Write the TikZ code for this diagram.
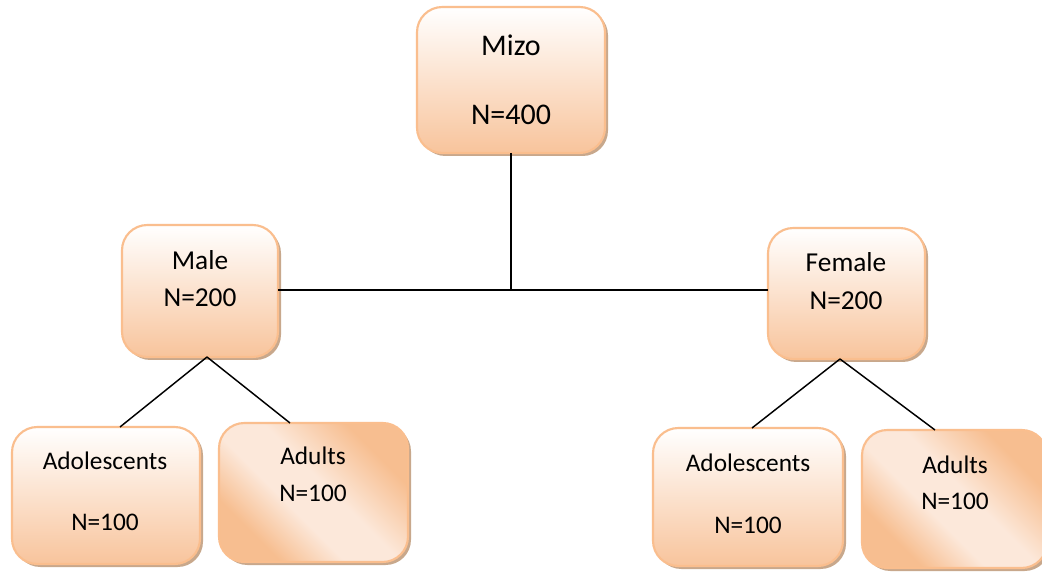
\documentclass[tikz,border=0pt]{standalone}
\usepackage{fontspec}
\setmainfont{Carlito}
\usetikzlibrary{calc}
\definecolor{pk}{RGB}{248,196,156}
\definecolor{pkd}{RGB}{247,190,144}
\definecolor{pkl}{RGB}{252,232,218}
\definecolor{pkb}{RGB}{250,190,142}
\definecolor{shd}{RGB}{200,168,140}
\pgfdeclarehorizontalshading{adultshade}{100bp}{color(0bp)=(pkd); color(28bp)=(pkd); color(42bp)=(pkl); color(54bp)=(pkl); color(72bp)=(pkd); color(100bp)=(pkd)}
\tikzset{
  box/.style={draw=pkb, line width=1.6pt, rounded corners=19pt, top color=white, bottom color=pk},
  adultbox/.style={draw=pkb, line width=1.6pt, rounded corners=19pt, shading=adultshade, shading angle=45},
  lbl/.style={inner sep=0pt, anchor=center},
  conn/.style={line width=1.1pt, black},
}
\newcommand{\boxat}[6]{% name, x1,y1,x2,y2, style
  \fill[shd] ($(#2,#3)+(3,3)$) [rounded corners=19pt] rectangle ($(#4,#5)+(3,3)$);
  \path[#6] (#2,#3) rectangle (#4,#5);
  \coordinate (#1-n) at ($(#2,#3)!0.5!(#4,#3)$);
  \coordinate (#1-s) at ($(#2,#5)!0.5!(#4,#5)$);
}
\begin{document}
\begin{tikzpicture}[x=0.75pt,y=-0.75pt]
\useasboundingbox (0,0) rectangle (1042,573);
\fill[white] (0,0) rectangle (1042,573);
\coordinate (hub) at (511,290);
\boxat{mizo}{417}{7}{605}{153}{box}
\boxat{male}{122}{225}{278}{357}{box}
\boxat{female}{768}{228}{925}{359}{box}
\boxat{adoL}{12}{427}{200}{564}{box}
\boxat{aduL}{219}{423}{408}{562}{adultbox}
\boxat{adoR}{653}{428}{843}{566}{box}
\boxat{aduR}{862}{430}{1047}{568}{adultbox}
\coordinate (maleR) at (278,290);
\coordinate (femaleL) at (768,290);
\coordinate (maleS) at (207,357);
\coordinate (femaleS) at (840,359);
\coordinate (adoLn) at (120,427);
\coordinate (aduLn) at (290,423);
\coordinate (adoRn) at (752,428);
\coordinate (aduRn) at (935,430);
\draw[conn] (mizo-s) -- (hub);
\draw[conn] (maleR) -- (femaleL);
\draw[conn] (maleS) -- (adoLn);
\draw[conn] (maleS) -- (aduLn);
\draw[conn] (femaleS) -- (adoRn);
\draw[conn] (femaleS) -- (aduRn);
% labels
\node[lbl, font=\fontsize{22.5}{26}\selectfont] (t1) at (511,45) {Mizo};
\node[lbl, font=\fontsize{22.5}{26}\selectfont] (t2) at (511,115) {N=400};
\node[lbl, font=\fontsize{20.5}{24}\selectfont] (t3) at (200,260) {Male};
\node[lbl, font=\fontsize{20.5}{24}\selectfont] (t4) at (200,298) {N=200};
\node[lbl, font=\fontsize{20.5}{24}\selectfont] (t5) at (846,262) {Female};
\node[lbl, font=\fontsize{20.5}{24}\selectfont] (t6) at (846,301) {N=200};
\node[lbl, font=\fontsize{19}{22}\selectfont] (t7) at (105,461) {Adolescents};
\node[lbl, font=\fontsize{19}{22}\selectfont] (t8) at (105,522) {N=100};
\node[lbl, font=\fontsize{19}{22}\selectfont] (t9) at (313,456) {Adults};
\node[lbl, font=\fontsize{19}{22}\selectfont] (t10) at (313,493) {N=100};
\node[lbl, font=\fontsize{19}{22}\selectfont] (t11) at (748,463) {Adolescents};
\node[lbl, font=\fontsize{19}{22}\selectfont] (t12) at (748,525) {N=100};
\node[lbl, font=\fontsize{19}{22}\selectfont] (t13) at (955,465) {Adults};
\node[lbl, font=\fontsize{19}{22}\selectfont] (t14) at (955,501) {N=100};
\end{tikzpicture}
\end{document}
